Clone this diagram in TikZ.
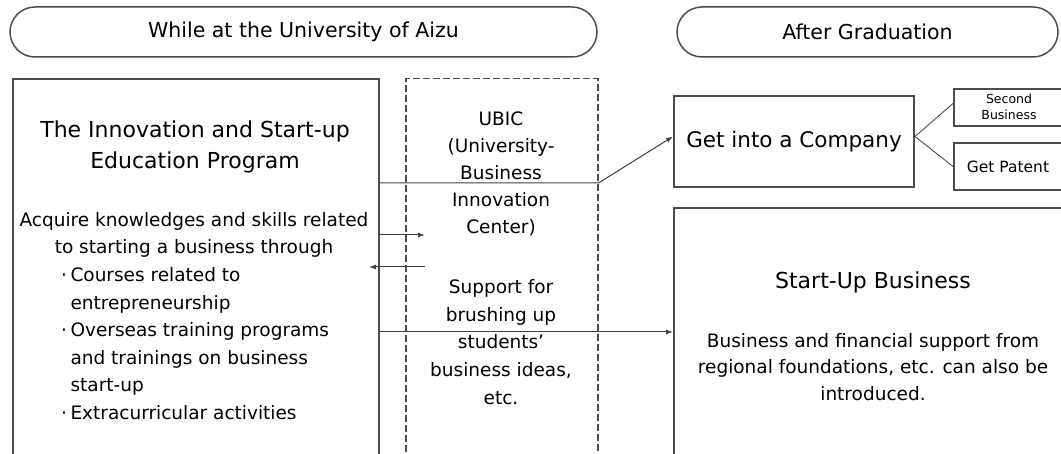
\documentclass[tikz,border=0pt]{standalone}
\usepackage{fontspec}
\setmainfont{DejaVu Sans}
\usetikzlibrary{arrows.meta, positioning}
\tikzstyle{line} = [draw, black!75, line width=1pt]
\tikzstyle{arrow} = [line, -{Latex[length=7pt,width=5pt]}]
\newcommand{\dotmark}{\makebox[13pt][c]{·}}
\newcommand{\nodot}{\hspace*{13pt}}

\begin{document}
\begin{tikzpicture}[x=1pt, y=-1pt,
    banner/.style={draw=black!70, line width=1.5pt, rounded corners=25pt, minimum height=50pt, inner sep=0pt, font=\fontsize{20.5}{24}\selectfont},
    box/.style={draw=black!70, line width=2pt, inner sep=0pt, anchor=north west},
    dashbox/.style={box, line width=1.5pt, dash pattern=on 7pt off 3pt},
    title/.style={align=center, font=\fontsize{22}{31}\selectfont},
    txt/.style={align=center, font=\fontsize{18.5}{26.5}\selectfont},
    small/.style={align=center, font=\fontsize{12.5}{16}\selectfont}]

    \useasboundingbox (0,0) rectangle (1061,454);
    \clip (0,0) rectangle (1061,454);

    \node[banner, minimum width=587pt] (while) at (303.5,32) {While at the University of Aizu};
    \node[banner, minimum width=381pt] (after) at (867.5,32) {After Graduation};

    \node[box, minimum width=366pt, minimum height=400pt] (prog) at (12,78) {};
    \node[dashbox, minimum width=192pt, minimum height=400pt] (ubic) at (405,78) {};
    \node[box, minimum width=240pt, minimum height=91pt, font=\fontsize{21.5}{25}\selectfont] (company) at (673,95) {Get into a Company};
    \node[box, minimum width=120pt, minimum height=37pt] (second) at (953,88) {};
    \node[box, minimum width=120pt, minimum height=47pt] (patent) at (953,142) {};
    \node[box, minimum width=400pt, minimum height=260pt] (startup) at (673,207) {};

    \node[title] (progtitle) at (195,147) {The Innovation and Start-up\\Education Program};
    \node[txt] (acquire) at (194,235) {Acquire knowledges and skills related\\to starting a business through};
    \node[txt, align=left, anchor=north west, font=\fontsize{18.5}{27.6}\selectfont] (bullets) at (54,264)
      {\dotmark Courses related to\\\nodot entrepreneurship\\\dotmark Overseas training programs\\\nodot and trainings on business\\\nodot start-up\\\dotmark Extracurricular activities};

    \node[txt, font=\fontsize{18.5}{27}\selectfont] (ubictext) at (501,174) {UBIC\\(University-\\Business\\Innovation\\Center)};
    \node[txt, font=\fontsize{18.5}{27.75}\selectfont] (support) at (501,342) {Support for\\brushing up\\students'\\business ideas,\\etc.};

    \node[small] (secondtext) at (1009,107) {Second\\Business};
    \node[small, font=\fontsize{15.5}{18}\selectfont] (patenttext) at (1008,167) {Get Patent};

    \node[title] (startuptitle) at (873,282) {Start-Up Business};
    \node[txt] (startuptext) at (873,367) {Business and financial support from\\regional foundations, etc. can also be\\introduced.};

    \coordinate (a) at ([yshift=-105pt]prog.north east);
    \coordinate (u1) at ([xshift=20pt,yshift=-157pt]ubic.north west);
    \coordinate (u2) at ([xshift=20pt,yshift=-189pt]ubic.north west);
    \coordinate (b) at ([yshift=-254pt]prog.north east);

    \draw[arrow] (a) -- (a -| ubic.east) -- ([yshift=5pt]company.west);
    \draw[arrow] (prog.east |- u1) -- (u1);
    \draw[arrow] (u2) -- ([xshift=-11pt]prog.east |- u2);
    \draw[arrow] (b) -- (b -| startup.west);
    \draw[line, line width=0.8pt] ([yshift=5pt]company.east) -- ([yshift=4pt]second.west);
    \draw[line, line width=0.8pt] ([yshift=5pt]company.east) -- (patent.west);

\end{tikzpicture}
\end{document}
